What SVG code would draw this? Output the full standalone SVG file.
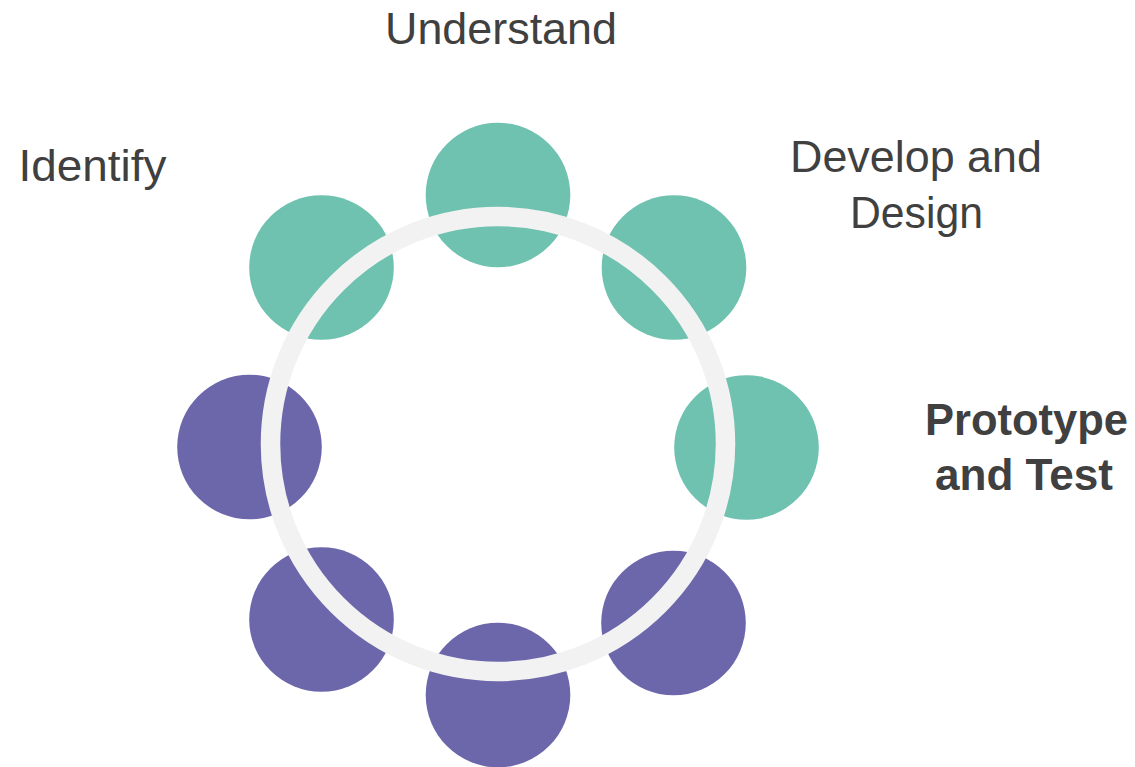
<svg xmlns="http://www.w3.org/2000/svg" width="1135" height="767" viewBox="0 0 1135 767">
<style>
.teal{fill:#6fc1b0}
.purple{fill:#6c67ab}
.ring{fill:none;stroke:#f2f2f2;stroke-width:19.5}
.lbl{font-family:"Liberation Sans",Arial,sans-serif;font-size:44px;fill:#404040;text-anchor:middle}
.bold{font-weight:bold}
</style>
<rect width="1135" height="767" fill="#ffffff"/>
<g id="nodes">
<g id="node-top"><circle class="teal" cx="498" cy="195" r="72.3"/></g>
<g id="node-top-right"><circle class="teal" cx="674" cy="267.5" r="72.3"/></g>
<g id="node-right"><circle class="teal" cx="746.5" cy="447.5" r="72.3"/></g>
<g id="node-bottom-right"><circle class="purple" cx="673.5" cy="623" r="72.3"/></g>
<g id="node-bottom"><circle class="purple" cx="498" cy="695" r="72.3"/></g>
<g id="node-bottom-left"><circle class="purple" cx="321.5" cy="619.5" r="72.3"/></g>
<g id="node-left"><circle class="purple" cx="249.5" cy="447" r="72.3"/></g>
<g id="node-top-left"><circle class="teal" cx="321.5" cy="267.5" r="72.3"/></g>
</g>
<g id="connectors">
<circle class="ring" cx="498" cy="444" r="227.5"/>
</g>
<g id="labels">
<text class="lbl" x="501" y="43.7" textLength="232" lengthAdjust="spacingAndGlyphs">Understand</text>
<text class="lbl" x="92.5" y="181" textLength="148" lengthAdjust="spacingAndGlyphs">Identify</text>
<text class="lbl" x="916" y="171.7" textLength="252" lengthAdjust="spacingAndGlyphs">Develop and</text>
<text class="lbl" x="916.5" y="228.3" textLength="133" lengthAdjust="spacingAndGlyphs">Design</text>
<text class="lbl bold" x="1026.5" y="435" font-size="42" textLength="203" lengthAdjust="spacingAndGlyphs">Prototype</text>
<text class="lbl bold" x="1024" y="490" font-size="42" textLength="178" lengthAdjust="spacingAndGlyphs">and Test</text>
</g>
</svg>
